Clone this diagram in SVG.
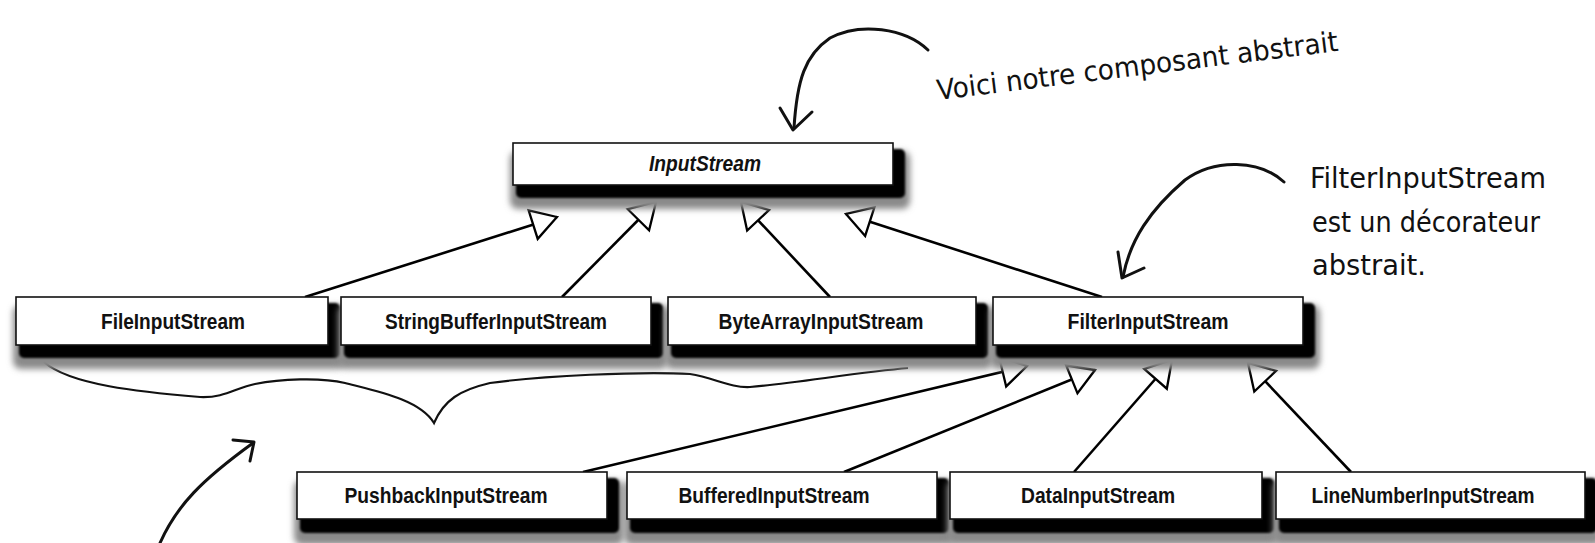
<svg xmlns="http://www.w3.org/2000/svg" width="1595" height="543" viewBox="0 0 1595 543">
<defs>
<style>
.sg{fill:#8a8a8a;filter:url(#blurG);}
.sk{fill:#000;filter:url(#blurK);}
.box{fill:#fff;stroke:#111;stroke-width:1.6;}
.lbl{font-family:"Liberation Sans",Arial,sans-serif;font-weight:bold;font-size:22px;text-anchor:middle;fill:#111;}
.it{font-style:italic;}
.conn{stroke:#000;stroke-width:2.6;fill:none;marker-end:url(#tri);}
.hand{font-family:"Liberation Sans Narrow","DejaVu Sans Condensed","DejaVu Sans",sans-serif;font-size:28px;fill:#111;}
.ink{stroke:#111;stroke-width:3;fill:none;stroke-linecap:round;stroke-linejoin:round;}
.brace{stroke:#111;stroke-width:2.2;fill:none;stroke-linejoin:miter;}
</style>
<filter id="blurG" x="-10%" y="-40%" width="120%" height="180%"><feGaussianBlur stdDeviation="3"/></filter>
<filter id="blurK" x="-5%" y="-20%" width="110%" height="140%"><feGaussianBlur stdDeviation="1"/></filter>
<marker id="tri" markerUnits="userSpaceOnUse" markerWidth="32" markerHeight="36" viewBox="-29 -18 32 36" refX="0" refY="0" orient="auto">
<path d="M0,0 L-25,-15 L-25,15 Z" fill="#fff" stroke="#000" stroke-width="2.3"/>
</marker>
</defs>
<rect width="1595" height="543" fill="#fff"/>

<g id="connectors">
<path class="conn" d="M305,297 L557,217"/>
<path class="conn" d="M562,297 L656,202"/>
<path class="conn" d="M830,297 L741,202"/>
<path class="conn" d="M1102,297 L846,214"/>
<path class="conn" d="M583,472 L1027,366"/>
<path class="conn" d="M844,472 L1095,370"/>
<path class="conn" d="M1074,472 L1172,360"/>
<path class="conn" d="M1351,472 L1248,363"/>
</g>

<g id="annotations">
<path class="ink" d="M928,50 C905,28 860,22 830,38 C805,55 797,80 794,128"/>
<path class="ink" d="M780,108 L793,130 L812,112"/>
<text class="hand" x="938" y="100" transform="rotate(-7 938 100)" textLength="404" lengthAdjust="spacingAndGlyphs">Voici notre composant abstrait</text>
<path class="ink" d="M1284,182 C1260,160 1215,158 1185,180 C1150,210 1130,240 1123,277"/>
<path class="ink" d="M1118,252 L1122,278 L1144,268"/>
<text class="hand" x="1310" y="188" textLength="236" lengthAdjust="spacingAndGlyphs">FilterInputStream</text>
<text class="hand" x="1312" y="232" textLength="228" lengthAdjust="spacingAndGlyphs">est un décorateur</text>
<text class="hand" x="1312" y="275" textLength="114" lengthAdjust="spacingAndGlyphs">abstrait.</text>
<path class="brace" d="M44,362 C70,385 140,392 200,397 C225,398 235,388 255,384 C280,379 320,377 345,383 C380,392 420,400 434,423 C444,400 460,390 490,383 C540,376 640,371 690,374 C715,378 730,388 750,387 C790,384 860,372 908,368"/>
<path class="ink" d="M160,543 C177,505 202,480 253,443"/>
<path class="ink" d="M233,440 L254,442 L250,461"/>
</g>

<g id="node-InputStream">
<rect class="sg" x="510" y="151" width="400" height="58" rx="8"/>
<rect class="sk" x="516" y="149" width="389" height="49" rx="5"/>
<rect class="box" x="513" y="143" width="380" height="42"/>
<text class="lbl it" x="705" y="171" textLength="112" lengthAdjust="spacingAndGlyphs">InputStream</text>
</g>

<g id="node-FileInputStream">
<rect class="sg" x="13" y="305" width="332" height="64" rx="8"/>
<rect class="sk" x="19" y="303" width="321" height="55" rx="5"/>
<rect class="box" x="16" y="297" width="312" height="48"/>
<text class="lbl" x="173" y="329" textLength="144" lengthAdjust="spacingAndGlyphs">FileInputStream</text>
</g>

<g id="node-StringBufferInputStream">
<rect class="sg" x="338" y="305" width="330" height="64" rx="8"/>
<rect class="sk" x="344" y="303" width="319" height="55" rx="5"/>
<rect class="box" x="341" y="297" width="310" height="48"/>
<text class="lbl" x="496" y="329" textLength="222" lengthAdjust="spacingAndGlyphs">StringBufferInputStream</text>
</g>

<g id="node-ByteArrayInputStream">
<rect class="sg" x="665" y="305" width="328" height="64" rx="8"/>
<rect class="sk" x="671" y="303" width="317" height="55" rx="5"/>
<rect class="box" x="668" y="297" width="308" height="48"/>
<text class="lbl" x="821" y="329" textLength="205" lengthAdjust="spacingAndGlyphs">ByteArrayInputStream</text>
</g>

<g id="node-FilterInputStream">
<rect class="sg" x="990" y="305" width="330" height="64" rx="8"/>
<rect class="sk" x="996" y="303" width="319" height="55" rx="5"/>
<rect class="box" x="993" y="297" width="310" height="48"/>
<text class="lbl" x="1148" y="329" textLength="161" lengthAdjust="spacingAndGlyphs">FilterInputStream</text>
</g>

<g id="node-PushbackInputStream">
<rect class="sg" x="294" y="480" width="330" height="65" rx="8"/>
<rect class="sk" x="300" y="478" width="319" height="55" rx="5"/>
<rect class="box" x="297" y="472" width="310" height="47"/>
<text class="lbl" x="446" y="503" textLength="203" lengthAdjust="spacingAndGlyphs">PushbackInputStream</text>
</g>

<g id="node-BufferedInputStream">
<rect class="sg" x="624" y="480" width="330" height="65" rx="8"/>
<rect class="sk" x="630" y="478" width="319" height="55" rx="5"/>
<rect class="box" x="627" y="472" width="310" height="47"/>
<text class="lbl" x="774" y="503" textLength="191" lengthAdjust="spacingAndGlyphs">BufferedInputStream</text>
</g>

<g id="node-DataInputStream">
<rect class="sg" x="947" y="480" width="332" height="65" rx="8"/>
<rect class="sk" x="953" y="478" width="321" height="55" rx="5"/>
<rect class="box" x="950" y="472" width="312" height="47"/>
<text class="lbl" x="1098" y="503" textLength="154" lengthAdjust="spacingAndGlyphs">DataInputStream</text>
</g>

<g id="node-LineNumberInputStream">
<rect class="sg" x="1273" y="480" width="329" height="65" rx="8"/>
<rect class="sk" x="1279" y="478" width="318" height="55" rx="5"/>
<rect class="box" x="1276" y="472" width="309" height="47"/>
<text class="lbl" x="1423" y="503" textLength="223" lengthAdjust="spacingAndGlyphs">LineNumberInputStream</text>
</g>
</svg>
